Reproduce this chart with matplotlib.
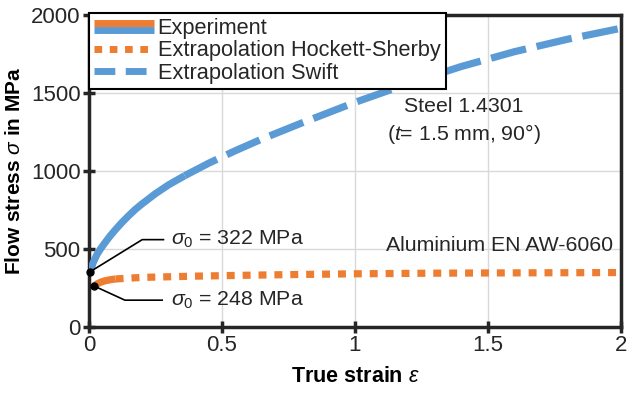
import matplotlib
matplotlib.use("Agg")
import matplotlib.pyplot as plt
from matplotlib.lines import Line2D
from matplotlib.legend_handler import HandlerBase

plt.rcParams['font.family'] = ['Liberation Sans', 'DejaVu Sans']
plt.rcParams['mathtext.fontset'] = 'custom'
plt.rcParams['mathtext.rm'] = 'Liberation Sans'
plt.rcParams['mathtext.it'] = 'Liberation Sans:italic'
plt.rcParams['mathtext.bf'] = 'Liberation Sans:bold'

ORANGE = '#ED7D31'
BLUE = '#5B9BD5'

# Steel 1.4301 experiment
steel_exp_eps = [0.005, 0.015, 0.03, 0.045, 0.06, 0.08, 0.10, 0.125, 0.15, 0.175, 0.20,
                 0.25, 0.30, 0.36]
steel_exp_sig = [355, 410, 465, 505, 540, 585, 625, 672, 715, 755, 790, 855, 912, 970]
# Steel Swift extrapolation
steel_swift_eps = [0.36, 0.45, 0.55, 0.65, 0.8, 1.0, 1.2, 1.4, 1.6, 1.8, 2.0]
steel_swift_sig = [970, 1050, 1130, 1205, 1308, 1440, 1560, 1670, 1765, 1845, 1915]
# Aluminium experiment
alu_exp_eps = [0.02, 0.03, 0.045, 0.06, 0.08, 0.10]
alu_exp_sig = [262, 276, 288, 296, 303, 308]
# Aluminium Hockett-Sherby extrapolation
alu_hs_eps = [0.10, 0.2, 0.4, 0.6, 0.8, 1.0, 1.3, 1.6, 2.0]
alu_hs_sig = [308, 318, 326, 332, 337, 341, 345, 347, 349]

sigma0_steel = 322
sigma0_alu = 248

x_ticks = [0, 0.5, 1, 1.5, 2]
x_ticklabels = ['0', '0.5', '1', '1.5', '2']
y_ticks = [0, 500, 1000, 1500, 2000]

fig = plt.figure(figsize=(6.27, 3.93), dpi=100)
ax = fig.add_axes([89/627, 1-327/393, (621-89)/627, (327-15)/393])

lw = 5.2
ax.plot(steel_exp_eps, steel_exp_sig, color=BLUE, lw=lw, solid_capstyle='butt', zorder=3)
ax.plot(steel_swift_eps, steel_swift_sig, color=BLUE, lw=lw, dashes=(5.0, 1.5),
        dash_capstyle='butt', zorder=3)
ax.plot(alu_exp_eps, alu_exp_sig, color=ORANGE, lw=lw, solid_capstyle='butt', zorder=3)
ax.plot(alu_hs_eps, alu_hs_sig, color=ORANGE, lw=lw, dashes=(1.1, 1.1),
        dash_capstyle='butt', zorder=3)

# marker dots + annotation leaders
ax.plot([steel_exp_eps[0]], [steel_exp_sig[0]], 'o', color='black', ms=5, zorder=5, clip_on=False)
ax.plot([alu_exp_eps[0]], [alu_exp_sig[0]], 'o', color='black', ms=5, zorder=5, clip_on=False)
ax.plot([steel_exp_eps[0], 0.20, 0.28], [steel_exp_sig[0], 560, 560], color='black', lw=1.2, zorder=4)
ax.plot([alu_exp_eps[0], 0.135, 0.275], [alu_exp_sig[0], 172, 172], color='black', lw=1.2, zorder=4)

fs = 15.3
ax.text(0.31, 560, r'$\sigma_0$ = %d MPa' % sigma0_steel, fontsize=fs, va='center', ha='left', color='#262626')
ax.text(0.31, 172, r'$\sigma_0$ = %d MPa' % sigma0_alu, fontsize=fs, va='center', ha='left', color='#262626')
ax.text(1.545, 522, 'Aluminium EN AW-6060', fontsize=fs, va='center', ha='center', color='#262626')
ax.text(1.41, 1414, 'Steel 1.4301', fontsize=fs, va='center', ha='center', color='#262626')
ax.text(1.41, 1236, r'($\it{t}$= 1.5 mm, 90°)', fontsize=fs, va='center', ha='center', color='#262626')

ax.set_xlim(0, 2)
ax.set_ylim(0, 2000)
ax.set_xticks(x_ticks)
ax.set_xticklabels(x_ticklabels)
ax.set_yticks(y_ticks)
ax.grid(True, color='#d9d9d9', lw=1.0, zorder=0)
ax.set_axisbelow(True)
for s in ax.spines.values():
    s.set_color('#262626')
    s.set_linewidth(2.5)
ax.tick_params(direction='inout', length=8, width=2.5, color='#262626',
               labelsize=16, labelcolor='#262626', pad=2)
ax.set_xlabel(r'True strain $\varepsilon$', fontsize=15.5, fontweight='bold', labelpad=7)
ax.set_ylabel(r'Flow stress $\sigma$ in MPa', fontsize=15, fontweight='bold', labelpad=5)


class HandlerTwoLines(HandlerBase):
    def create_artists(self, legend, orig_handle, xdescent, ydescent, width, height, fontsize, trans):
        y1 = height * 0.5 + 0.24 * height
        y2 = height * 0.5 - 0.24 * height
        l1 = Line2D([-xdescent, width - xdescent], [y1 - ydescent] * 2, color=ORANGE, lw=5.0,
                    solid_capstyle='butt', transform=trans)
        l2 = Line2D([-xdescent, width - xdescent], [y2 - ydescent] * 2, color=BLUE, lw=5.0,
                    solid_capstyle='butt', transform=trans)
        return [l1, l2]


exp_handle = Line2D([], [], color=ORANGE)
hs_handle = Line2D([], [], color=ORANGE, lw=5.0, dashes=(1.1, 1.1), dash_capstyle='butt')
sw_handle = Line2D([], [], color=BLUE, lw=5.0, dashes=(3.0, 1.5), dash_capstyle='butt')
leg = ax.legend([exp_handle, hs_handle, sw_handle],
                ['Experiment', 'Extrapolation Hockett-Sherby', 'Extrapolation Swift'],
                handler_map={exp_handle: HandlerTwoLines()},
                loc='upper left', bbox_to_anchor=(0.0, 1.008), fontsize=15.7,
                frameon=True, fancybox=False, framealpha=1, edgecolor='black',
                borderpad=0.25, labelspacing=0.06, handlelength=2.75, handletextpad=0.15,
                borderaxespad=0.0)
leg.get_frame().set_linewidth(1.5)
for t in leg.get_texts():
    t.set_color('#262626')

fig.savefig('out.png', dpi=100)
